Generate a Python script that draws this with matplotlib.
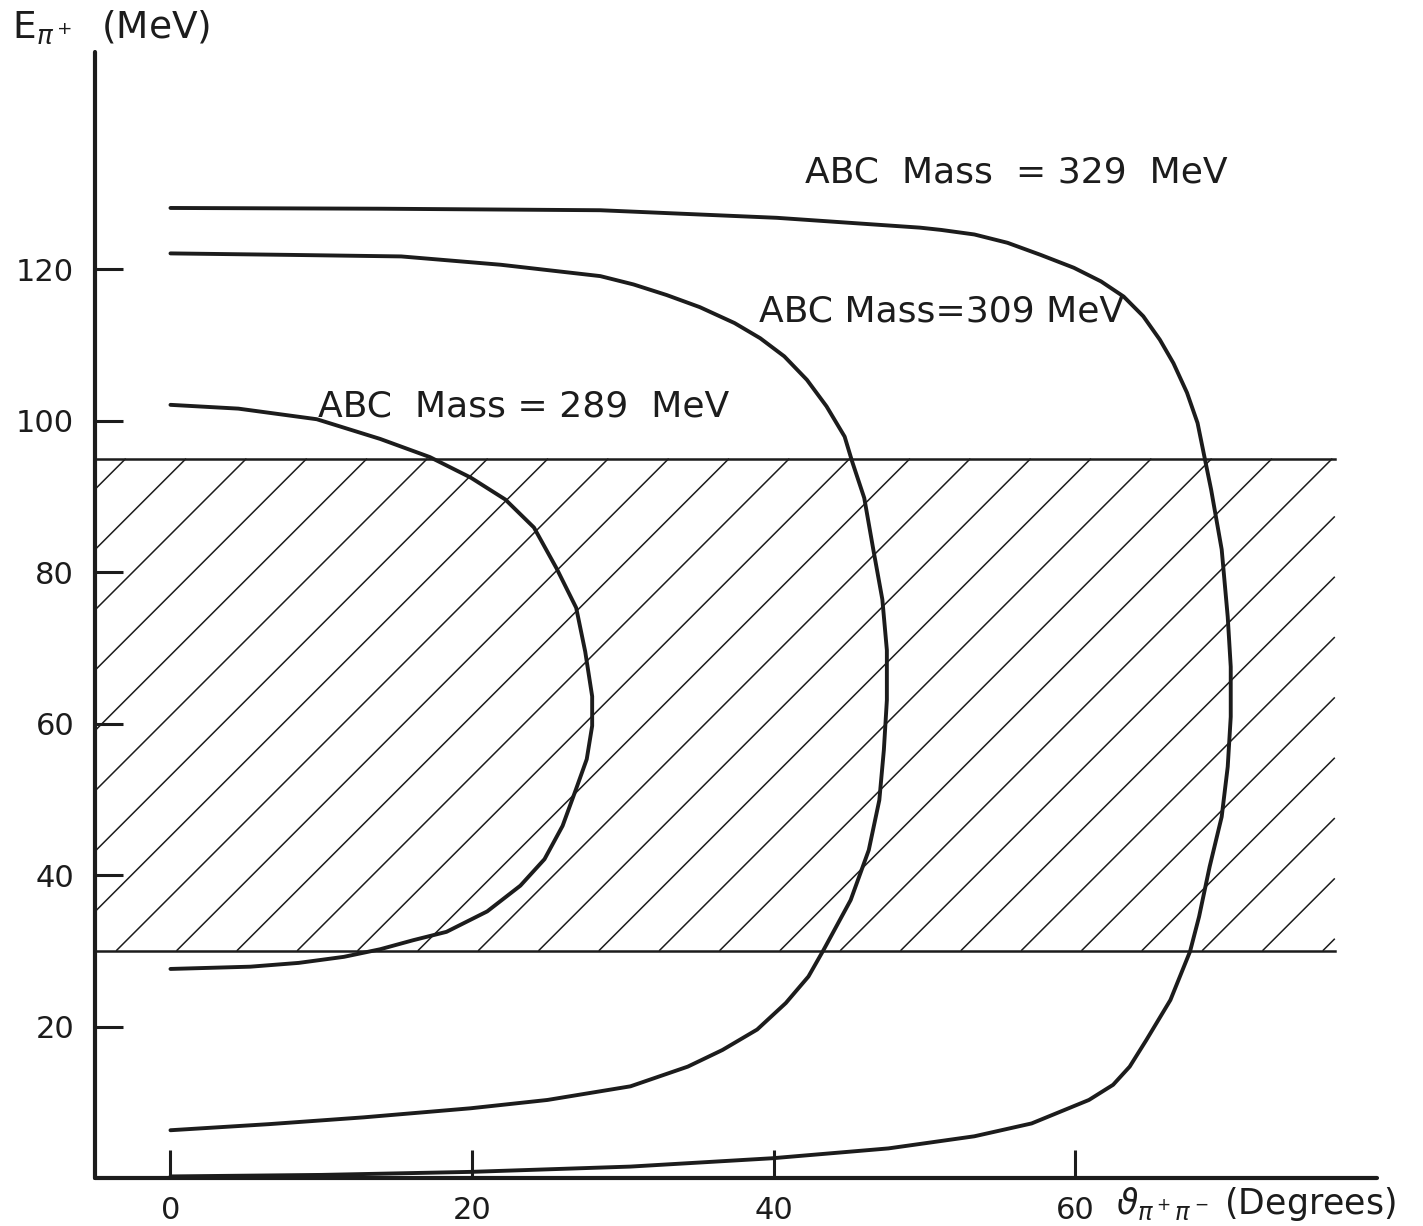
"""
E_pi+ versus opening angle theta(pi+ pi-) for three ABC masses, with the
hatched acceptance band 30-95 MeV. Values read off the hand-drawn original.
"""

import numpy as np
import matplotlib

matplotlib.use("Agg")
import matplotlib.pyplot as plt
from matplotlib.collections import LineCollection

# each curve walked from its upper branch (theta = 0) round to the lower one
theta_289 = [0, 4.5, 9.7, 13.9, 17.2, 19.9, 22.2, 24.1, 25.6, 26.9, 27.5, 27.96,
             27.96, 27.6, 26.9, 26.0, 24.8, 23.2, 21.0, 18.3, 16.1, 13.9, 11.5,
             8.5, 5.3, 0]
e_289 = [102.1, 101.6, 100.2, 97.6, 95.2, 92.5, 89.6, 85.9, 80.5, 75.3, 69.5, 63.6,
         59.7, 55.3, 51.4, 46.5, 42.1, 38.6, 35.2, 32.5, 31.4, 30.2, 29.2,
         28.4, 27.9, 27.6]

theta_309 = [0, 8.0, 15.3, 21.9, 28.5, 30.7, 32.9, 35.1, 37.4, 39.1, 40.7, 42.2,
             43.5, 44.7, 45.2, 46.0, 46.6, 47.2, 47.5, 47.5, 47.3, 47.0, 46.3,
             45.1, 43.3, 42.3, 40.8, 38.9, 36.6, 34.3, 30.5, 25.0, 19.9, 12.8,
             6.5, 0]
e_309 = [122.1, 121.9, 121.7, 120.6, 119.1, 118.0, 116.6, 115.0, 112.9, 110.9, 108.5, 105.4,
         101.9, 97.9, 94.6, 89.8, 83.0, 76.4, 69.7, 63.1, 56.5, 49.9, 43.3,
         36.7, 30.1, 26.6, 23.1, 19.6, 16.9, 14.7, 12.1, 10.3, 9.2, 8.0,
         7.1, 6.3]

theta_329 = [0, 14.0, 28.5, 40.2, 49.7, 51.1, 53.3, 55.5, 57.7, 59.9, 61.7, 63.2,
             64.5, 65.6, 66.5, 67.4, 68.1, 68.6, 69.0, 69.7, 70.1, 70.3, 70.3,
             70.1, 69.7, 68.9, 68.2, 67.6, 66.3, 64.7, 63.6, 62.5, 60.9, 57.1,
             53.3, 47.6, 39.9, 30.5, 19.9, 10.0, 0]
e_329 = [128.1, 128.0, 127.8, 126.8, 125.5, 125.2, 124.6, 123.5, 121.9, 120.2, 118.4, 116.4,
         113.8, 110.7, 107.6, 103.7, 99.7, 94.8, 90.9, 83.0, 74.1, 67.5, 60.9,
         54.3, 47.7, 41.1, 34.5, 29.9, 23.5, 18.2, 14.7, 12.3, 10.3, 7.2,
         5.5, 3.9, 2.6, 1.5, 0.8, 0.4, 0.2]

mass_labels = ["ABC  Mass = 289  MeV", "ABC Mass=309 MeV", "ABC  Mass  = 329  MeV"]
label_x = [9.8, 39.0, 42.1]
label_y = [100.6, 113.1, 131.4]     # baselines

# acceptance band
band_lo, band_hi = 30, 95
band_right = 77.2
hatch_step = 4.0      # degrees between hatch lines along the band edge
hatch_phase = 0.4

x_ticks = [0, 20, 40, 60]
y_ticks = [20, 40, 60, 80, 100, 120]
xlim = (-5, 80)
ylim = (0, 148.7)

INK = "#1c1c1c"


def hatch_segments(ax):
    """45 degree (on screen) hatch lines, cut to the band rectangle."""
    px_deg = ax.bbox.width / (xlim[1] - xlim[0])
    px_mev = ax.bbox.height / (ylim[1] - ylim[0])
    slope = px_deg / px_mev
    run = (band_hi - band_lo) / slope
    x0, x1 = xlim[0], band_right
    n_back = np.ceil((run + hatch_phase - x0) / hatch_step)
    segs = []
    for t in np.arange(hatch_phase - n_back * hatch_step, x1 + hatch_step, hatch_step):
        xa, ya = t, band_lo
        xb, yb = t + run, band_hi
        if xa < x0:
            xa, ya = x0, band_lo + (x0 - t) * slope
        if xb > x1:
            xb, yb = x1, band_lo + (x1 - t) * slope
        if xa < xb:
            segs.append([(xa, ya), (xb, yb)])
    return segs


fig = plt.figure(figsize=(14.23, 12.26), dpi=100)
ax = fig.add_axes([0.0668, 0.0392, 0.9009, 0.9184])
ax.set_xlim(*xlim)
ax.set_ylim(*ylim)

for side in ("top", "right"):
    ax.spines[side].set_visible(False)
for side in ("left", "bottom"):
    ax.spines[side].set_linewidth(3.0)
    ax.spines[side].set_color(INK)
    ax.spines[side].set_capstyle("round")

ax.set_xticks(x_ticks)
ax.set_yticks(y_ticks)
ax.tick_params(direction="in", length=20, width=2.2, color=INK,
               labelsize=22, labelcolor=INK)
ax.tick_params(axis="y", pad=15)
ax.tick_params(axis="x", pad=13)

# --- hatched band -------------------------------------------------------
ax.plot([xlim[0], band_right], [band_hi, band_hi], color=INK, lw=1.8)
ax.plot([xlim[0], band_right], [band_lo, band_lo], color=INK, lw=1.8)
ax.add_collection(LineCollection(hatch_segments(ax), colors=INK, linewidths=1.1))

# --- curves ---------------------------------------------------------------
curves = [(theta_289, e_289), (theta_309, e_309), (theta_329, e_329)]
for (th, e), txt, lx, ly in zip(curves, mass_labels, label_x, label_y):
    ax.plot(th, e, color=INK, lw=2.8, solid_joinstyle="round", solid_capstyle="round")
    ax.text(lx, ly, txt, fontsize=26, color=INK, ha="left", va="baseline")

# axis titles sit at the ends of the axes, as in the drawing
fig.text(12 / 1423, 1 - 27 / 1226, r"$\mathregular{E}_{\pi^+}$  (MeV)",
         fontsize=27, color=INK, ha="left", va="center")
fig.text(1116 / 1423, 1 - 1204 / 1226, r"$\vartheta_{\pi^+\pi^-}$ (Degrees)",
         fontsize=25, color=INK, ha="left", va="center")

fig.savefig("out.png", dpi=100, facecolor="white")
plt.close(fig)
